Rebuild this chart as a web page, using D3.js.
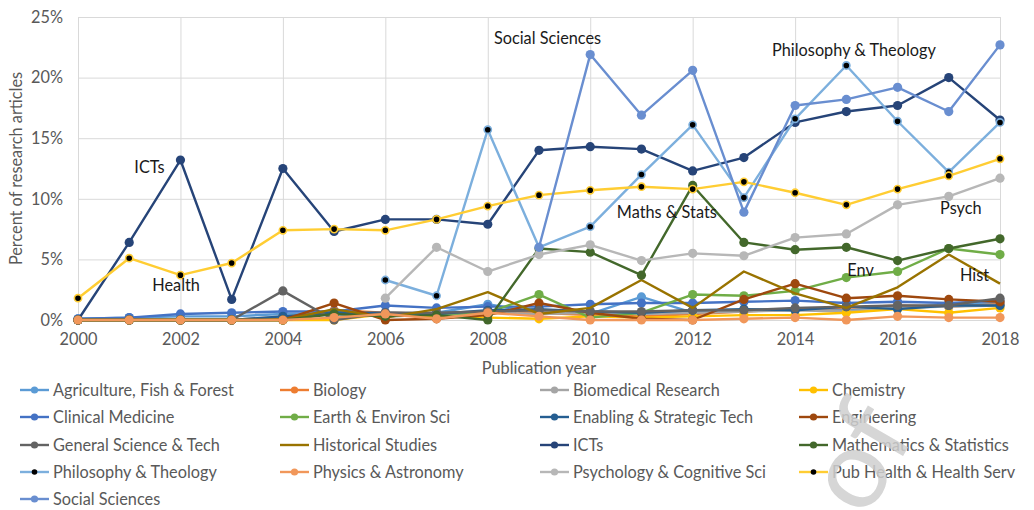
<!DOCTYPE html>
<html>
<head>
<meta charset="utf-8">
<script src="https://cdn.jsdelivr.net/npm/d3@7"></script>
<style>
  body { margin: 0; background: #fff; }
  svg { display: block; font-family: Lato, "Liberation Sans", sans-serif; }
</style>
</head>
<body>
<div id="chart"></div>
<script>
// values in percent, one entry per publication year
var years = d3.range(2000, 2019);
var yTicks = [0, 5, 10, 15, 20, 25];
var xTicks = [2000, 2002, 2004, 2006, 2008, 2010, 2012, 2014, 2016, 2018];

var agri       = [0.1, 0.2, 0.3, 0.3, 0.5, 0.5, 0.3, 0.6, 1.3, 0.6, 0.5, 1.9, 0.6, 0.8, 0.9, 0.8, 1.0, 1.3, 1.4];
var biology    = [0, 0, 0, 0, 0.2, 0.8, 0.6, 0.5, 0.7, 0.6, 0.4, 0.3, 0.5, 0.7, 0.9, 1.0, 1.2, 1.1, 1.3];
var biomed     = [0, 0, 0, 0, 0.3, 0.6, 0.4, 0.4, 0.6, 0.5, 0.6, 0.5, 0.6, 0.7, 0.8, 0.7, 1.0, 1.1, 1.2];
var chemistry  = [0, 0, 0, 0, 0, 0, 0.5, 0.3, 0.2, 0.1, 0.3, 0.2, 0.3, 0.4, 0.4, 0.6, 0.9, 0.6, 1.0];
var clinical   = [0.1, 0.2, 0.5, 0.6, 0.7, 0.7, 1.2, 1.0, 1.1, 1.1, 1.3, 1.4, 1.4, 1.5, 1.6, 1.4, 1.5, 1.4, 1.6];
var earth      = [0, 0, 0, 0, 0, 0.6, 0.4, 0.5, 0.6, 2.1, 0.2, 0.6, 2.1, 2.0, 2.4, 3.5, 4.0, 5.9, 5.4];
var enabling   = [0, 0, 0, 0, 0.3, 0.6, 0.6, 0.5, 0.8, 0.9, 0.7, 0.6, 0.8, 0.9, 0.8, 1.1, 0.9, 1.2, 1.2];
var engineering= [0, 0, 0, 0, 0, 1.4, 0, 0.1, 0.4, 1.4, 0.6, 0.1, 0, 1.7, 3.0, 1.8, 2.0, 1.7, 1.5];
var genSci     = [0, 0, 0, 0, 2.4, 0, 0.6, 0.6, 0.7, 0.8, 0.7, 0.7, 0.8, 0.8, 1.0, 1.1, 1.2, 1.2, 1.8];
var hist       = [0, 0, 0, 0, 0, 0.9, 0.2, 0.9, 2.3, 0.5, 1.0, 3.3, 1.0, 4.0, 2.2, 1.0, 2.7, 5.4, 3.0];
var icts       = [0, 6.4, 13.2, 1.7, 12.5, 7.3, 8.3, 8.3, 7.9, 14.0, 14.3, 14.1, 12.3, 13.4, 16.3, 17.2, 17.7, 20.0, 16.5];
var maths      = [0, 0, 0, 0, 0, 0.5, 0.3, 0.4, 0, 5.9, 5.6, 3.7, 11.1, 6.4, 5.8, 6.0, 4.9, 5.9, 6.7];
var philo      = [null, null, null, null, null, null, 3.3, 2.0, 15.7, 6.0, 7.7, 12.0, 16.1, 10.1, 16.6, 21.0, 16.4, 12.2, 16.3];
var physics    = [0, 0, 0, 0, 0, 0.2, 0.5, 0.1, 0.6, 0.3, 0, 0, 0, 0.1, 0.2, 0, 0.3, 0.2, 0.2];
var psych      = [null, null, null, null, null, null, 1.8, 6.0, 4.0, 5.4, 6.2, 4.9, 5.5, 5.3, 6.8, 7.1, 9.5, 10.2, 11.7];
var pubHealth  = [1.8, 5.1, 3.7, 4.7, 7.4, 7.5, 7.4, 8.3, 9.4, 10.3, 10.7, 11.0, 10.8, 11.4, 10.5, 9.5, 10.8, 11.9, 13.3];
var social     = [null, null, null, null, null, null, null, null, null, 6.0, 21.9, 16.9, 20.6, 8.9, 17.7, 18.2, 19.2, 17.2, 22.7];

var names = ["Agriculture, Fish & Forest", "Biology", "Biomedical Research", "Chemistry",
  "Clinical Medicine", "Earth & Environ Sci", "Enabling & Strategic Tech", "Engineering",
  "General Science & Tech", "Historical Studies", "ICTs", "Mathematics & Statistics",
  "Philosophy & Theology", "Physics & Astronomy", "Psychology & Cognitive Sci", "Pub Health & Health Serv",
  "Social Sciences"];
var colors = ["#5b9bd5", "#ed7d31", "#a5a5a5", "#ffc000",
  "#4472c4", "#70ad47", "#255e91", "#9e480e",
  "#636363", "#997300", "#264478", "#43682b",
  "#7cafdd", "#f1975a", "#b7b7b7", "#ffcd33",
  "#698ed0"];
var valueLists = [agri, biology, biomed, chemistry, clinical, earth, enabling, engineering,
  genSci, hist, icts, maths, philo, physics, psych, pubHealth, social];

var notes = [
  {text: "ICTs", year: 2001.1, value: 12.1},
  {text: "Health", year: 2001.45, value: 2.4},
  {text: "Social Sciences", year: 2008.12, value: 22.8},
  {text: "Maths & Stats", year: 2010.52, value: 8.4},
  {text: "Philosophy & Theology", year: 2013.55, value: 21.8},
  {text: "Psych", year: 2016.83, value: 8.75},
  {text: "Env", year: 2015.02, value: 3.65},
  {text: "Hist", year: 2017.22, value: 3.2}
];

var series = names.map(function(n, i) {
  return {
    name: n,
    color: colors[i],
    values: valueLists[i],
    noMarker: n === "Historical Studies",
    blackMarker: n === "Philosophy & Theology" || n === "Pub Health & Health Serv"
  };
});

var w = 1034, h = 510;
var plotL = 78, plotR = 1000, plotT = 17, plotB = 320;
var fs = "16.3px";

var svg = d3.select("#chart").append("svg")
  .attr("width", w)
  .attr("height", h);

var x = d3.scaleLinear().domain([2000, 2018]).range([plotL, plotR]);
var y = d3.scaleLinear().domain([0, 25]).range([plotB, plotT]);

// gridlines
svg.append("g")
  .attr("transform", "translate(0," + plotB + ")")
  .call(d3.axisBottom(x).tickValues(xTicks).tickSize(-(plotB - plotT)).tickFormat(""))
  .call(function(g) { g.select(".domain").remove(); })
  .selectAll("line").attr("stroke", "#d9d9d9");

svg.append("g")
  .attr("transform", "translate(" + plotL + ",0)")
  .call(d3.axisLeft(y).tickValues(yTicks).tickSize(-(plotR - plotL)).tickFormat(""))
  .call(function(g) { g.select(".domain").remove(); })
  .selectAll("line").attr("stroke", "#d9d9d9");

// tick labels
svg.append("g")
  .attr("transform", "translate(0," + plotB + ")")
  .call(d3.axisBottom(x).tickValues(xTicks).tickSize(0).tickPadding(13).tickFormat(d3.format("d")))
  .call(function(g) { g.select(".domain").remove(); })
  .selectAll("text")
  .attr("fill", "#595959")
  .style("font-size", fs)
  .style("font-family", "Lato");

svg.append("g")
  .attr("transform", "translate(" + plotL + ",0)")
  .call(d3.axisLeft(y).tickValues(yTicks).tickSize(0).tickPadding(15).tickFormat(function(d) { return d + "%"; }))
  .call(function(g) { g.select(".domain").remove(); })
  .selectAll("text")
  .attr("fill", "#595959")
  .style("font-size", fs)
  .style("font-family", "Lato");

svg.append("text")
  .attr("x", (plotL + plotR) / 2)
  .attr("y", 374)
  .attr("text-anchor", "middle")
  .attr("fill", "#595959")
  .style("font-size", fs)
  .text("Publication year");

svg.append("text")
  .attr("transform", "translate(22," + ((plotT + plotB) / 2) + ") rotate(-90)")
  .attr("text-anchor", "middle")
  .attr("fill", "#595959")
  .style("font-size", fs)
  .text("Percent of research articles");

var line = d3.line()
  .defined(function(d) { return d.v !== null; })
  .x(function(d) { return x(d.year); })
  .y(function(d) { return y(d.v); });

series.forEach(function(s) {
  var pts = years.map(function(yr, i) { return {year: yr, v: s.values[i]}; });
  var g = svg.append("g");
  g.append("path")
    .datum(pts)
    .attr("d", line)
    .attr("fill", "none")
    .attr("stroke", s.color)
    .attr("stroke-width", 2.4)
    .attr("stroke-linejoin", "round");
  if (s.noMarker) return;
  g.selectAll("circle")
    .data(pts.filter(function(d) { return d.v !== null; }))
    .enter().append("circle")
    .attr("cx", function(d) { return x(d.year); })
    .attr("cy", function(d) { return y(d.v); })
    .attr("r", s.blackMarker ? 3.6 : 4.6)
    .attr("fill", s.blackMarker ? "#000" : s.color)
    .attr("stroke", s.blackMarker ? s.color : "none")
    .attr("stroke-width", 1.6);
});

// annotations
svg.selectAll(".note")
  .data(notes)
  .enter().append("text")
  .attr("class", "note")
  .attr("x", function(d) { return x(d.year); })
  .attr("y", function(d) { return y(d.value); })
  .attr("fill", "#1a1a1a")
  .style("font-size", fs)
  .text(function(d) { return d.text; });

// legend
var colX = [20, 280, 540, 799];
var rowY = [390, 417, 445, 472, 499];
var leg = svg.selectAll(".leg")
  .data(series)
  .enter().append("g")
  .attr("class", "leg")
  .attr("transform", function(d, i) { return "translate(" + colX[i % 4] + "," + rowY[Math.floor(i / 4)] + ")"; });

leg.append("line")
  .attr("x1", 0).attr("x2", 29)
  .attr("stroke", function(d) { return d.color; })
  .attr("stroke-width", 2.4);

leg.filter(function(d) { return !d.noMarker; })
  .append("circle")
  .attr("cx", 14.5)
  .attr("r", function(d) { return d.blackMarker ? 2.8 : 3.6; })
  .attr("fill", function(d) { return d.blackMarker ? "#000" : d.color; });

leg.append("text")
  .attr("x", 33)
  .attr("dy", "0.35em")
  .attr("fill", "#595959")
  .style("font-size", fs)
  .text(function(d) { return d.name; });

// faint watermark letters in the corner
svg.append("text")
  .attr("transform", "translate(866,520) rotate(-60)")
  .attr("fill", "#cfcfcf")
  .attr("opacity", 0.85)
  .style("font-size", "112px")
  .style("font-family", "Lato")
  .text("of");
</script>
</body>
</html>
